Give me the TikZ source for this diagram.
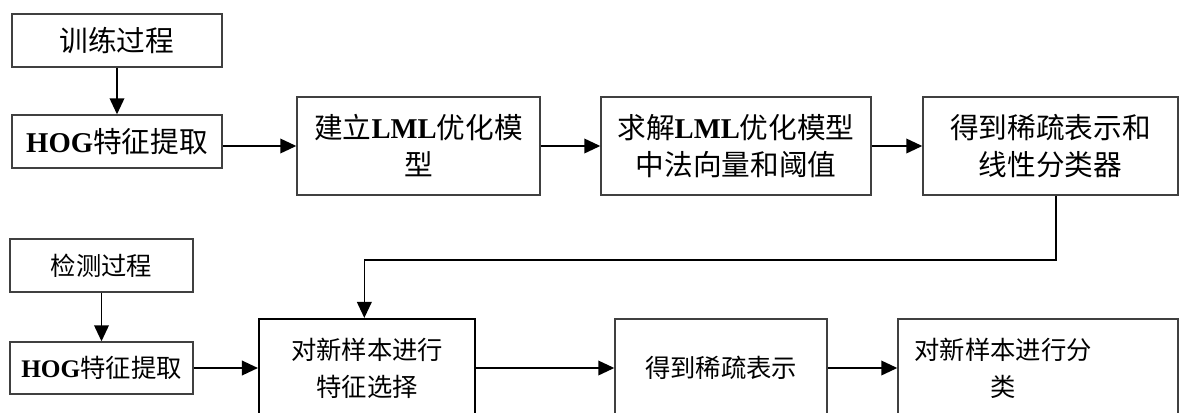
\documentclass[tikz,border=0pt]{standalone}
\usepackage{fontspec}
\setmainfont{Liberation Serif}
\newfontfamily\cjk{Noto Sans CJK SC}
\usetikzlibrary{arrows.meta}
\begin{document}
\begin{tikzpicture}[x=0.75pt,y=-0.75pt,
  box/.style={draw=black!75,line width=1.1pt,fill=white,inner sep=0pt,align=center,
    font=\fontsize{21.5pt}{27.75pt}\selectfont\cjk},
  small box/.style={box,font=\fontsize{19pt}{27.75pt}\selectfont\cjk},
  thick box/.style={small box,draw=black,line width=1.6pt},
  label text/.style={inner sep=0pt,align=center,font=\fontsize{19pt}{27.75pt}\selectfont\cjk},
  arr/.style={line width=1.2pt,-{Triangle[length=12pt,width=11pt]}}]
\useasboundingbox (0,0) rectangle (1179,412);
\clip (0,0) rectangle (1179,412);
% top row
\node[box,minimum width=157.5pt,minimum height=39.75pt] (t1) at (117,40.5) {训练过程};
\node[box,minimum width=157.5pt,minimum height=39.75pt] (h1) at (117,141.5) {{\rmfamily\bfseries HOG}特征提取};
\node[box,minimum width=182.25pt,minimum height=73.5pt] (b1) at (418.5,146) {建立{\rmfamily\bfseries LML}优化模\\型};
\node[box,minimum width=202.5pt,minimum height=73.5pt] (b2) at (736,146) {求解{\rmfamily\bfseries LML}优化模型\\中法向量和阈值};
\node[box,minimum width=191.25pt,minimum height=73.5pt] (b3) at (1050.5,146) {得到稀疏表示和\\线性分类器};
% bottom row
\node[small box,minimum width=137.25pt,minimum height=39.75pt] (t2) at (101.5,265.5) {检测过程};
\node[small box,minimum width=137.25pt,minimum height=39pt] (h2) at (101.5,368) {{\rmfamily\bfseries HOG}特征提取};
\node[thick box,minimum width=162pt,minimum height=73.5pt] (c1) at (367,368) {对新样本进行\\特征选择};
\node[small box,minimum width=159pt,minimum height=73.5pt] (c2) at (721,368) {得到稀疏表示};
\node[small box,minimum width=210pt,minimum height=73.5pt] (c3) at (1038,368) {};
\node[label text] (c3text) at (1003,368) {对新样本进行分\\类};
\coordinate (turn) at (0,260);
% connectors
\draw[arr] (t1) -- (h1);
\draw[arr] (b1.west -| h1.east) -- (b1.west);
\draw[arr] (b1) -- (b2);
\draw[arr] (b2) -- (b3);
\draw[arr] ([xshift=4pt]b3.south) |- ([xshift=-2pt]c1.north |- turn) -- ([xshift=-2pt]c1.north);
\draw[arr] (t2) -- (h2);
\draw[arr] (h2) -- (c1.west |- h2.east);
\draw[arr] (c1) -- (c2);
\draw[arr] (c2) -- (c3);
\end{tikzpicture}
\end{document}
